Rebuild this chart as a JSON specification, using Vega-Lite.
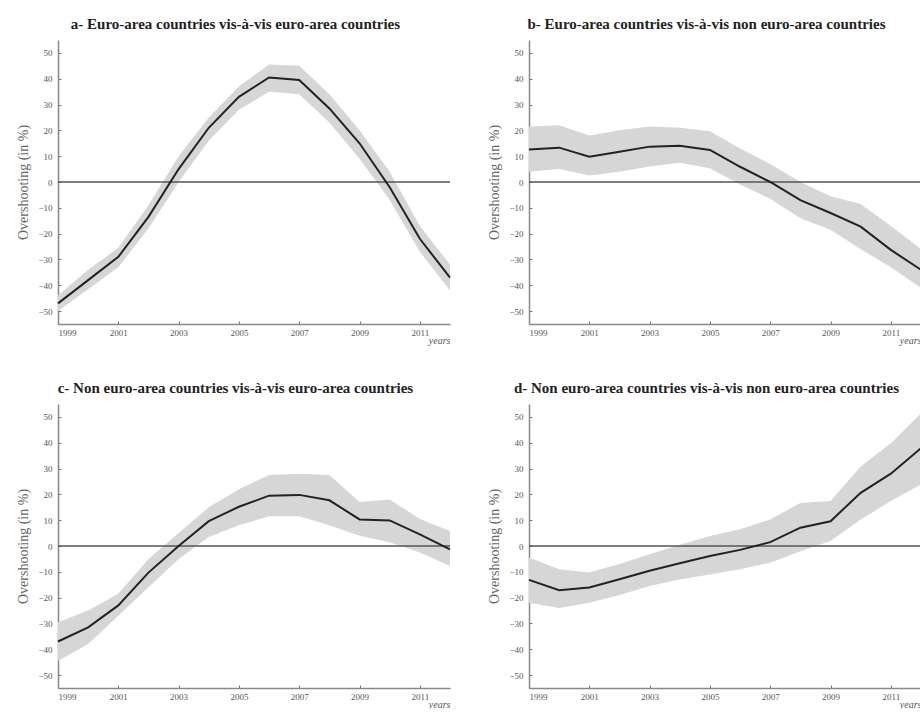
{
  "$schema": "https://vega.github.io/schema/vega-lite/v6.json",
  "padding": {"left": 16, "top": 17, "right": 0, "bottom": 0},
  "background": "white",
  "config": {
    "view": {"stroke": null},
    "font": "Liberation Serif",
    "title": {"font": "Liberation Serif", "fontSize": 15, "fontWeight": "bold", "color": "#222", "anchor": "middle", "frame": "bounds", "offset": 8},
    "axis": {"grid": false, "domainColor": "#888", "domainWidth": 1.5, "tickColor": "#777", "tickSize": -3, "labelOverlap": false, "labelFont": "Liberation Serif", "labelFontSize": 9, "labelColor": "#555", "titleFont": "Liberation Serif", "titleFontWeight": "normal", "titleColor": "#666"},
    "axisY": {"labelPadding": 9, "labelOverlap": false},
    "axisX": {"labelPadding": 7}
  },
  "datasets": {
    "d": [
      {"panel": "a", "year": 1999, "v": -47, "lo": -50, "hi": -44},
      {"panel": "a", "year": 2000, "v": -38, "lo": -41.5, "hi": -34},
      {"panel": "a", "year": 2001, "v": -29, "lo": -33, "hi": -25.5},
      {"panel": "a", "year": 2002, "v": -13.5, "lo": -18, "hi": -9},
      {"panel": "a", "year": 2003, "v": 5, "lo": 0, "hi": 10},
      {"panel": "a", "year": 2004, "v": 21, "lo": 16, "hi": 25},
      {"panel": "a", "year": 2005, "v": 33, "lo": 28, "hi": 37},
      {"panel": "a", "year": 2006, "v": 40.5, "lo": 35, "hi": 45.5},
      {"panel": "a", "year": 2007, "v": 39.5, "lo": 34, "hi": 45},
      {"panel": "a", "year": 2008, "v": 28.5, "lo": 23, "hi": 34},
      {"panel": "a", "year": 2009, "v": 15, "lo": 9, "hi": 20},
      {"panel": "a", "year": 2010, "v": -2, "lo": -7, "hi": 4},
      {"panel": "a", "year": 2011, "v": -22, "lo": -27, "hi": -17},
      {"panel": "a", "year": 2012, "v": -37, "lo": -42, "hi": -32},
      {"panel": "b", "year": 1999, "v": 12.6, "lo": 4, "hi": 21.5},
      {"panel": "b", "year": 2000, "v": 13.3, "lo": 5, "hi": 22},
      {"panel": "b", "year": 2001, "v": 9.8, "lo": 2.5, "hi": 18},
      {"panel": "b", "year": 2002, "v": 11.7, "lo": 4, "hi": 20},
      {"panel": "b", "year": 2003, "v": 13.7, "lo": 6, "hi": 21.5},
      {"panel": "b", "year": 2004, "v": 14, "lo": 7.5, "hi": 21},
      {"panel": "b", "year": 2005, "v": 12.4, "lo": 5.3, "hi": 19.7},
      {"panel": "b", "year": 2006, "v": 5.9, "lo": -1, "hi": 13},
      {"panel": "b", "year": 2007, "v": 0, "lo": -6.5, "hi": 7},
      {"panel": "b", "year": 2008, "v": -7, "lo": -14, "hi": 0},
      {"panel": "b", "year": 2009, "v": -12, "lo": -18.5, "hi": -5.5},
      {"panel": "b", "year": 2010, "v": -17.3, "lo": -26, "hi": -8.5},
      {"panel": "b", "year": 2011, "v": -26.3, "lo": -33, "hi": -17},
      {"panel": "b", "year": 2012, "v": -34, "lo": -41, "hi": -26},
      {"panel": "c", "year": 1999, "v": -37, "lo": -44.5, "hi": -29.5},
      {"panel": "c", "year": 2000, "v": -31.5, "lo": -38, "hi": -25},
      {"panel": "c", "year": 2001, "v": -23, "lo": -27, "hi": -18.5},
      {"panel": "c", "year": 2002, "v": -10.3, "lo": -16, "hi": -5},
      {"panel": "c", "year": 2003, "v": 0, "lo": -5, "hi": 5},
      {"panel": "c", "year": 2004, "v": 9.6, "lo": 3.5, "hi": 15},
      {"panel": "c", "year": 2005, "v": 15.2, "lo": 8, "hi": 22},
      {"panel": "c", "year": 2006, "v": 19.5, "lo": 11.5, "hi": 27.5},
      {"panel": "c", "year": 2007, "v": 19.8, "lo": 11.5, "hi": 28},
      {"panel": "c", "year": 2008, "v": 17.7, "lo": 8, "hi": 27.5},
      {"panel": "c", "year": 2009, "v": 10.3, "lo": 4, "hi": 17},
      {"panel": "c", "year": 2010, "v": 9.9, "lo": 1.5, "hi": 18},
      {"panel": "c", "year": 2011, "v": 4.5, "lo": -2.5, "hi": 10.5},
      {"panel": "c", "year": 2012, "v": -1.3, "lo": -7.7, "hi": 5.8},
      {"panel": "d", "year": 1999, "v": -13.1, "lo": -22, "hi": -4.5},
      {"panel": "d", "year": 2000, "v": -17.1, "lo": -24, "hi": -9},
      {"panel": "d", "year": 2001, "v": -16.1, "lo": -22, "hi": -10.3},
      {"panel": "d", "year": 2002, "v": -12.9, "lo": -19, "hi": -7},
      {"panel": "d", "year": 2003, "v": -9.6, "lo": -15.5, "hi": -3.2},
      {"panel": "d", "year": 2004, "v": -6.7, "lo": -13, "hi": 0.5},
      {"panel": "d", "year": 2005, "v": -3.9, "lo": -11, "hi": 3.9},
      {"panel": "d", "year": 2006, "v": -1.5, "lo": -9, "hi": 6.5},
      {"panel": "d", "year": 2007, "v": 1.5, "lo": -6.5, "hi": 10.3},
      {"panel": "d", "year": 2008, "v": 7.1, "lo": -2, "hi": 16.7},
      {"panel": "d", "year": 2009, "v": 9.6, "lo": 1.9, "hi": 17.4},
      {"panel": "d", "year": 2010, "v": 20.6, "lo": 10.3, "hi": 30.8},
      {"panel": "d", "year": 2011, "v": 28, "lo": 17.4, "hi": 39.8},
      {"panel": "d", "year": 2012, "v": 37.9, "lo": 23.8, "hi": 51.4}
    ]
  },
  "data": {"name": "d"},
  "spacing": 36,
  "vconcat": [
    {
      "spacing": 33,
      "hconcat": [
        {
          "title": "a- Euro-area countries vis-à-vis euro-area countries",
          "width": 392, "height": 284,
          "transform": [{"filter": "datum.panel === 'a'"}],
          "encoding": {
            "x": {"field": "year", "type": "quantitative", "scale": {"domain": [1999, 2012], "nice": false}, "axis": {"values": [1999, 2001, 2003, 2005, 2007, 2009, 2011], "format": "d", "title": "years", "titleAnchor": "end", "titleFontStyle": "italic", "titleFontSize": 10, "titlePadding": -2, "titleColor": "#555"}}
          },
          "layer": [
            {"mark": {"type": "area", "color": "#d6d6d6"}, "encoding": {"y": {"field": "lo", "type": "quantitative", "scale": {"domain": [-55, 55], "nice": false}, "axis": {"tickCount": 11, "title": "Overshooting (in %)", "titleFontSize": 14, "titlePadding": 7}}, "y2": {"field": "hi"}}},
            {"transform": [{"filter": "datum.year === 1999"}], "mark": {"type": "rule", "color": "#555", "strokeWidth": 1.5}, "encoding": {"x": {"value": 0}, "x2": {"value": 392}, "y": {"datum": 0, "type": "quantitative"}}},
            {"mark": {"type": "line", "color": "#222", "strokeWidth": 2}, "encoding": {"y": {"field": "v", "type": "quantitative"}}}
          ]
        },
        {
          "title": "b- Euro-area countries vis-à-vis non euro-area countries",
          "width": 392, "height": 284,
          "transform": [{"filter": "datum.panel === 'b'"}],
          "encoding": {
            "x": {"field": "year", "type": "quantitative", "scale": {"domain": [1999, 2012], "nice": false}, "axis": {"values": [1999, 2001, 2003, 2005, 2007, 2009, 2011], "format": "d", "title": "years", "titleAnchor": "end", "titleFontStyle": "italic", "titleFontSize": 10, "titlePadding": -2, "titleColor": "#555"}}
          },
          "layer": [
            {"mark": {"type": "area", "color": "#d6d6d6"}, "encoding": {"y": {"field": "lo", "type": "quantitative", "scale": {"domain": [-55, 55], "nice": false}, "axis": {"tickCount": 11, "title": "Overshooting (in %)", "titleFontSize": 14, "titlePadding": 7}}, "y2": {"field": "hi"}}},
            {"transform": [{"filter": "datum.year === 1999"}], "mark": {"type": "rule", "color": "#555", "strokeWidth": 1.5}, "encoding": {"x": {"value": 0}, "x2": {"value": 392}, "y": {"datum": 0, "type": "quantitative"}}},
            {"mark": {"type": "line", "color": "#222", "strokeWidth": 2}, "encoding": {"y": {"field": "v", "type": "quantitative"}}}
          ]
        }
      ]
    },
    {
      "spacing": 33,
      "hconcat": [
        {
          "title": "c- Non euro-area countries vis-à-vis euro-area countries",
          "width": 392, "height": 284,
          "transform": [{"filter": "datum.panel === 'c'"}],
          "encoding": {
            "x": {"field": "year", "type": "quantitative", "scale": {"domain": [1999, 2012], "nice": false}, "axis": {"values": [1999, 2001, 2003, 2005, 2007, 2009, 2011], "format": "d", "title": "years", "titleAnchor": "end", "titleFontStyle": "italic", "titleFontSize": 10, "titlePadding": -2, "titleColor": "#555"}}
          },
          "layer": [
            {"mark": {"type": "area", "color": "#d6d6d6"}, "encoding": {"y": {"field": "lo", "type": "quantitative", "scale": {"domain": [-55, 55], "nice": false}, "axis": {"tickCount": 11, "title": "Overshooting (in %)", "titleFontSize": 14, "titlePadding": 7}}, "y2": {"field": "hi"}}},
            {"transform": [{"filter": "datum.year === 1999"}], "mark": {"type": "rule", "color": "#555", "strokeWidth": 1.5}, "encoding": {"x": {"value": 0}, "x2": {"value": 392}, "y": {"datum": 0, "type": "quantitative"}}},
            {"mark": {"type": "line", "color": "#222", "strokeWidth": 2}, "encoding": {"y": {"field": "v", "type": "quantitative"}}}
          ]
        },
        {
          "title": "d- Non euro-area countries vis-à-vis non euro-area countries",
          "width": 392, "height": 284,
          "transform": [{"filter": "datum.panel === 'd'"}],
          "encoding": {
            "x": {"field": "year", "type": "quantitative", "scale": {"domain": [1999, 2012], "nice": false}, "axis": {"values": [1999, 2001, 2003, 2005, 2007, 2009, 2011], "format": "d", "title": "years", "titleAnchor": "end", "titleFontStyle": "italic", "titleFontSize": 10, "titlePadding": -2, "titleColor": "#555"}}
          },
          "layer": [
            {"mark": {"type": "area", "color": "#d6d6d6"}, "encoding": {"y": {"field": "lo", "type": "quantitative", "scale": {"domain": [-55, 55], "nice": false}, "axis": {"tickCount": 11, "title": "Overshooting (in %)", "titleFontSize": 14, "titlePadding": 7}}, "y2": {"field": "hi"}}},
            {"transform": [{"filter": "datum.year === 1999"}], "mark": {"type": "rule", "color": "#555", "strokeWidth": 1.5}, "encoding": {"x": {"value": 0}, "x2": {"value": 392}, "y": {"datum": 0, "type": "quantitative"}}},
            {"mark": {"type": "line", "color": "#222", "strokeWidth": 2}, "encoding": {"y": {"field": "v", "type": "quantitative"}}}
          ]
        }
      ]
    }
  ]
}
